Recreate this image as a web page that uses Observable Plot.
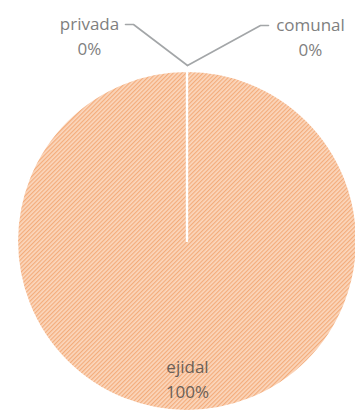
<!DOCTYPE html>
<html>
<head>
<meta charset="utf-8">
<script src="https://cdn.jsdelivr.net/npm/d3@7"></script>
<script src="https://cdn.jsdelivr.net/npm/@observablehq/plot@0.6"></script>
<style>
  html, body { margin: 0; padding: 0; background: #fff; }
  svg { display: block; }
</style>
</head>
<body>
<div id="chart"></div>
<script>
// Land tenure shares
const categories = ["ejidal", "privada", "comunal"];
const shares = [100, 0, 0];
const shareLabels = ["100%", "0%", "0%"];

// Layout
const W = 355, H = 416;
const center = {x: 187, y: 241};
const radius = 170;
const FONT = "'Open Sans', sans-serif";
const FONT_SIZE = 17;
// Where each label block sits, and which side its leader leaves from
const labelLayout = {
  ejidal:  {inside: true, dist: 0.8},
  privada: {x: 89,  y: 34, side: -1, gap: 36},
  comunal: {x: 310, y: 35, side: 1,  gap: 42}
};

const rows = categories.map((category, i) => ({category, share: shares[i], label: shareLabels[i]}));
const slices = d3.pie().sort(null).value(d => d.share)(rows);

// Label positions derived from slice angles (inside) or the layout (outside)
const labels = slices.map(s => {
  const L = labelLayout[s.data.category];
  const mid = (s.startAngle + s.endAngle) / 2;
  if (L.inside) {
    return {...s.data, x: center.x + Math.sin(mid) * radius * L.dist, y: center.y - Math.cos(mid) * radius * L.dist, inside: true};
  }
  return {...s.data, x: L.x, y: L.y, inside: false};
});

// Leader lines for the outside labels: rim point -> elbow -> label edge
const leaders = [];
slices.forEach(s => {
  const L = labelLayout[s.data.category];
  if (L.inside) return;
  const mid = (s.startAngle + s.endAngle) / 2;
  const rim = {x: center.x + Math.sin(mid) * (radius + 6), y: center.y - Math.cos(mid) * (radius + 6)};
  const yy = L.y - 10;
  const end = {x: L.x - L.side * L.gap, y: yy};
  const elbow = {x: L.x - L.side * (L.gap + 8), y: yy};
  [rim, elbow, end].forEach((p, k) => leaders.push({category: s.data.category, k, ...p}));
});

// Hatched pie slices, drawn with d3.arc at the scaled centre
function pieSlices(index, {x, y}) {
  const g = d3.create("svg:g");
  const defs = g.append("defs");
  const pat = defs.append("pattern")
    .attr("id", "hatch")
    .attr("patternUnits", "userSpaceOnUse")
    .attr("width", 3).attr("height", 3)
    .attr("patternTransform", "rotate(45)");
  pat.append("rect").attr("width", 3).attr("height", 3).attr("fill", "#fbd7bd");
  pat.append("rect").attr("width", 1.2).attr("height", 3).attr("fill", "#f3ac7b");
  const arc = d3.arc().innerRadius(0).outerRadius(radius);
  g.append("g")
    .attr("transform", `translate(${x(center.x)},${y(center.y)})`)
    .selectAll("path")
    .data(slices)
    .join("path")
      .attr("d", arc)
      .attr("fill", "url(#hatch)")
      .attr("stroke", "#fff")
      .attr("stroke-width", 2.2)
      .attr("stroke-linejoin", "round");
  return g.node();
}

const chart = Plot.plot({
  width: W,
  height: H,
  margin: 0,
  style: {fontFamily: FONT, background: "#fff"},
  x: {domain: [0, W], range: [0, W], axis: null},
  y: {domain: [0, H], range: [0, H], axis: null},
  marks: [
    pieSlices,
    Plot.line(leaders, {x: "x", y: "y", z: "category", stroke: "#a3a6a8", strokeWidth: 1.6}),
    Plot.text(labels, {
      x: "x", y: "y",
      text: d => `${d.category}\n${d.label}`,
      fill: d => d.inside ? "#6a6058" : "#808080",
      fontSize: FONT_SIZE,
      lineHeight: 1.5,
      textAnchor: "middle"
    })
  ]
});

document.getElementById("chart").append(chart);
</script>
</body>
</html>
